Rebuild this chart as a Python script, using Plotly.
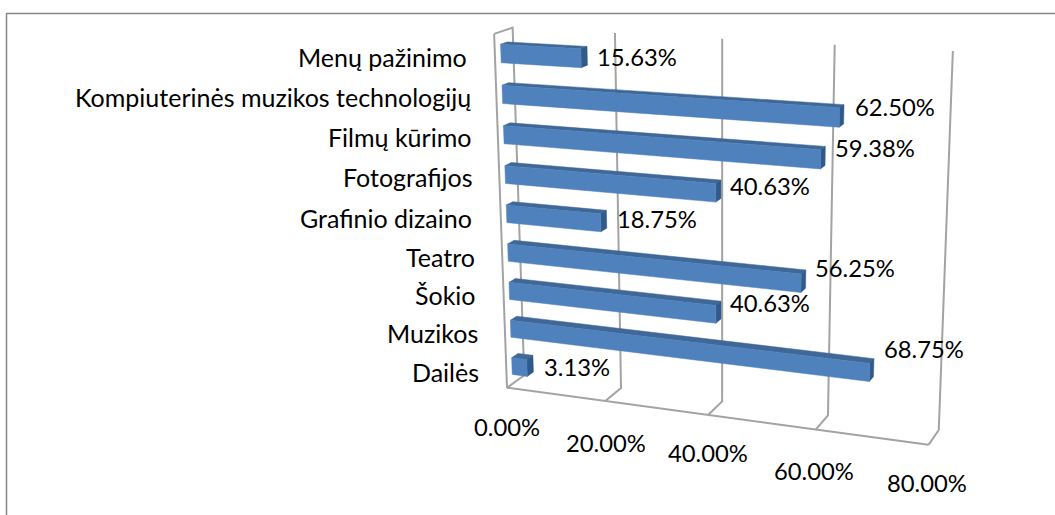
import numpy as np
import plotly.graph_objects as go

# ---- data (top to bottom in the picture) ----
categories = ["Menų pažinimo", "Kompiuterinės muzikos technologijų", "Filmų kūrimo", "Fotografijos",
              "Grafinio dizaino", "Teatro", "Šokio", "Muzikos", "Dailės"]
values = [15.63, 62.50, 59.38, 40.63, 18.75, 56.25, 40.63, 68.75, 3.13]
value_labels = ["15.63%", "62.50%", "59.38%", "40.63%", "18.75%", "56.25%", "40.63%", "68.75%", "3.13%"]
axis_ticks = [0, 20, 40, 60, 80]
axis_tick_labels = ["0.00%", "20.00%", "40.00%", "60.00%", "80.00%"]

# ---- layout of the oblique 3-D box: world (value, category slot, depth) -> page ----
W, H = 1055, 515
CALIB = [
    ((0, 0, 0), (506.7, 388.3)), ((20, 0, 0), (606, 400.7)), ((40, 0, 0), (709, 415)),
    ((60, 0, 0), (816, 429)), ((80, 0, 0), (928.3, 445)),
    ((0, 0, 1), (523, 373)), ((20, 0, 1), (621.7, 389.3)), ((40, 0, 1), (722, 402.5)),
    ((60, 0, 1), (828.3, 416)), ((80, 0, 1), (937.7, 429.3)),
    ((0, 9, 1), (512.7, 28.3)), ((20, 9, 1), (615, 33)), ((40, 9, 1), (725, 38)),
    ((60, 9, 1), (834.3, 45)), ((80, 9, 1), (951.7, 50.7)),
    ((0, 9, 0), (492.7, 34)),
]
A = []
for (v, c, d), (px, py) in CALIB:
    P = [v / 80, c / 9, d, 1]
    A.append(P + [0, 0, 0, 0] + [-px / W * t for t in P])
    A.append([0, 0, 0, 0] + P + [-py / H * t for t in P])
M = np.linalg.svd(np.array(A))[2][-1].reshape(3, 4)


def project(v, c, d):
    q = M @ np.array([v / 80, c / 9, d, 1.0])
    return q[0] / q[2] * W, q[1] / q[2] * H


GRID = "#A3A3A3"
FRONT, TOP, SIDE = "#4F81BD", "#3F6797", "#2F5A8A"
D0, D1 = 0.32, 0.68        # bar depth extent
C0, C1 = 0.25, 0.70        # bar extent inside its category slot
FONT_CAT = dict(family="Lato, Carlito, Calibri, sans-serif", size=25, color="#000000")
FONT_NUM = dict(family="Lato, Carlito, Calibri, sans-serif", size=23.8, color="#000000")

fig = go.Figure()


def poly(points, fill=None, color=GRID, width=2):
    xs = [p[0] for p in points]
    ys = [p[1] for p in points]
    if fill:
        fig.add_trace(go.Scatter(x=xs + xs[:1], y=ys + ys[:1], mode="lines", fill="toself", fillcolor=fill,
                                 line=dict(color=fill, width=0.5), hoverinfo="skip", showlegend=False))
    else:
        fig.add_trace(go.Scatter(x=xs, y=ys, mode="lines", line=dict(color=color, width=width),
                                 hoverinfo="skip", showlegend=False))


# walls and floor
poly([project(0, 9, 0), project(0, 9, 1), project(0, 0, 1), project(0, 0, 0), project(0, 9, 0)])
poly([project(0, 0, 0), project(80, 0, 0)])
for t in axis_ticks[1:]:
    poly([project(t, 0, 0), project(t, 0, 1), project(t, 9, 1)])

# bars
for i, val in enumerate(values):
    c = len(values) - 1 - i
    lo, hi = c + C0, c + C1
    poly([project(0, hi, D0), project(val, hi, D0), project(val, hi, D1), project(0, hi, D1)], fill=TOP)
    poly([project(val, lo, D0), project(val, hi, D0), project(val, hi, D1), project(val, lo, D1)], fill=SIDE)
    poly([project(0, lo, D0), project(val, lo, D0), project(val, hi, D0), project(0, hi, D0)], fill=FRONT)

# text placement (page pixels): manual label positions of the original chart
CAT_RIGHT = [469, 473, 473, 474, 474, 477, 478, 480, 481]
CAT_Y = [57, 97, 137, 177, 218, 257, 295, 333, 372]
VAL_LEFT = [595, 853, 833, 728, 615, 813, 728, 882, 542]
VAL_Y = [57, 107, 148, 186, 219, 268, 303, 349, 367]
TICK_X = [506.5, 605.5, 708, 814, 927]
TICK_Y = [427, 443, 453, 471, 483]

anns = []
for t, rx, y in zip(categories, CAT_RIGHT, CAT_Y):
    anns.append(dict(x=rx, y=y, text=t, xanchor="right", yanchor="middle", showarrow=False, font=FONT_CAT))
for t, lx, y in zip(value_labels, VAL_LEFT, VAL_Y):
    anns.append(dict(x=lx, y=y, text=t, xanchor="left", yanchor="middle", showarrow=False, font=FONT_NUM))
for t, tx, y in zip(axis_tick_labels, TICK_X, TICK_Y):
    anns.append(dict(x=tx, y=y, text=t, xanchor="center", yanchor="middle", showarrow=False, font=FONT_NUM))

fig.update_layout(
    width=W, height=H, margin=dict(l=0, r=0, t=0, b=0), paper_bgcolor="white", plot_bgcolor="white",
    showlegend=False, annotations=anns,
    xaxis=dict(range=[0, W], visible=False, fixedrange=True),
    yaxis=dict(range=[H, 0], visible=False, fixedrange=True),
    shapes=[
        dict(type="line", x0=6, x1=W, y0=13.5, y1=13.5, line=dict(color="#868686", width=1.5)),
        dict(type="line", x0=6.5, x1=6.5, y0=13, y1=H, line=dict(color="#868686", width=1.5)),
    ],
)
fig.write_html("out.html", config=dict(displayModeBar=False),
               post_script="document.body.style.margin='0';document.documentElement.style.overflow='hidden';"
                           "var s=document.createElement('style');s.textContent='text{font-variant-ligatures:none}';"
                           "document.head.appendChild(s);")
